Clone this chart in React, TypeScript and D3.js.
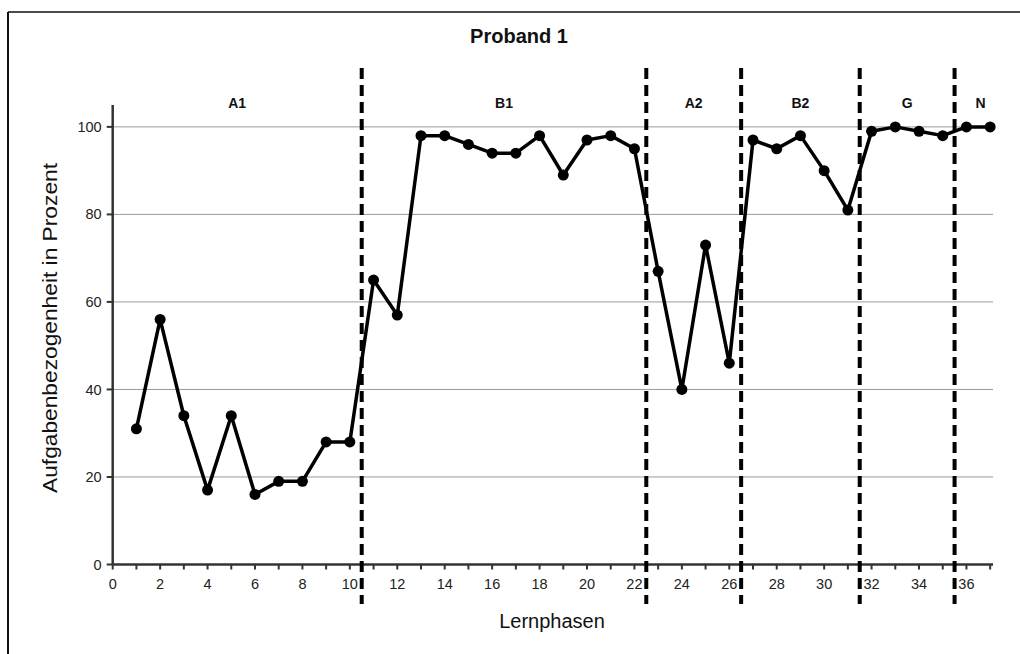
import React from "react";
import * as d3 from "d3";

const sessions = d3.range(1, 38);
const values = [31, 56, 34, 17, 34, 16, 19, 19, 28, 28, 65, 57, 98, 98, 96, 94, 94, 98, 89, 97, 98, 95, 67, 40, 73, 46, 97, 95, 98, 90, 81, 99, 100, 99, 98, 100, 100];
const phaseBoundaries = [10.5, 22.5, 26.5, 31.5, 35.5];
const phaseLabels = ["A1", "B1", "A2", "B2", "G", "N"];
const phaseLabelPos = [5.25, 16.5, 24.5, 29, 33.5, 36.6];
const xTickLabels = [0, 2, 4, 6, 8, 10, 12, 14, 16, 18, 20, 22, 24, 26, 28, 30, 32, 34, 36];
const yTicks = [0, 20, 40, 60, 80, 100];
const title = "Proband 1";
const xTitle = "Lernphasen";
const yTitle = "Aufgabenbezogenheit in Prozent";

const W = 1020;
const H = 654;

export default function App() {
  const x = d3.scaleLinear().domain([0, 37.12]).range([112.7, 993]);
  const y = d3.scaleLinear().domain([0, 105]).range([564.5, 105]);
  const line = d3.line<number>().x((_, i) => x(sessions[i])).y((d) => y(d));
  const font = "'Liberation Sans', Arial, Helvetica, sans-serif";
  const x0 = x(0);
  const y0 = y(0);

  return (
    <svg width={W} height={H} style={{ position: "absolute", left: 0, top: 0, background: "#fff" }} fontFamily={font}>
      {/* frame */}
      <line x1={8} y1={12} x2={W} y2={12} stroke="#111" strokeWidth={1.6} />
      <line x1={8} y1={12} x2={8} y2={H} stroke="#111" strokeWidth={2} />

      <text x={519} y={43} textAnchor="middle" fontSize={20} fontWeight="bold" fill="#111">{title}</text>

      {/* gridlines */}
      {yTicks.filter((t) => t > 0).map((t) => (
        <line key={"g" + t} x1={x0} x2={x(37.12)} y1={y(t)} y2={y(t)} stroke="#9a9a9a" strokeWidth={1} />
      ))}

      {/* y axis */}
      <line x1={x0} x2={x0} y1={y(105)} y2={y0} stroke="#333" strokeWidth={2.5} />
      {yTicks.map((t) => (
        <g key={"yt" + t}>
          <line x1={x0 - 6} x2={x0} y1={y(t)} y2={y(t)} stroke="#333" strokeWidth={2} />
          <text x={x0 - 11} y={y(t)} dy="0.35em" textAnchor="end" fontSize={14.5} fill="#222">{t}</text>
        </g>
      ))}

      {/* x axis */}
      <line x1={x0} x2={x(37.12)} y1={y0} y2={y0} stroke="#333" strokeWidth={2.5} />
      {d3.range(0, 38).map((t) => (
        <line key={"xt" + t} x1={x(t)} x2={x(t)} y1={y0} y2={y0 + 5} stroke="#333" strokeWidth={2} />
      ))}
      {xTickLabels.map((t) => (
        <text key={"xl" + t} x={x(t)} y={y0 + 24} textAnchor="middle" fontSize={14.5} fill="#222">{t}</text>
      ))}

      <text x={552} y={628} textAnchor="middle" fontSize={20} fill="#111">{xTitle}</text>
      <text transform="translate(57,328) rotate(-90)" textAnchor="middle" fontSize={20} fill="#111" textLength={330} lengthAdjust="spacingAndGlyphs">{yTitle}</text>

      {/* data */}
      <path d={line(values) || ""} fill="none" stroke="#000" strokeWidth={3.5} strokeLinejoin="round" />
      {values.map((v, i) => (
        <circle key={"c" + i} cx={x(sessions[i])} cy={y(v)} r={5.5} fill="#000" />
      ))}

      {/* phase boundaries */}
      {phaseBoundaries.map((b) => (
        <line key={"pb" + b} x1={x(b)} x2={x(b)} y1={68} y2={604} stroke="#000" strokeWidth={4} strokeDasharray="11,6" />
      ))}
      {phaseLabels.map((p, i) => (
        <text key={p} x={x(phaseLabelPos[i])} y={108} textAnchor="middle" fontSize={14} fontWeight="bold" fill="#111">{p}</text>
      ))}
    </svg>
  );
}
